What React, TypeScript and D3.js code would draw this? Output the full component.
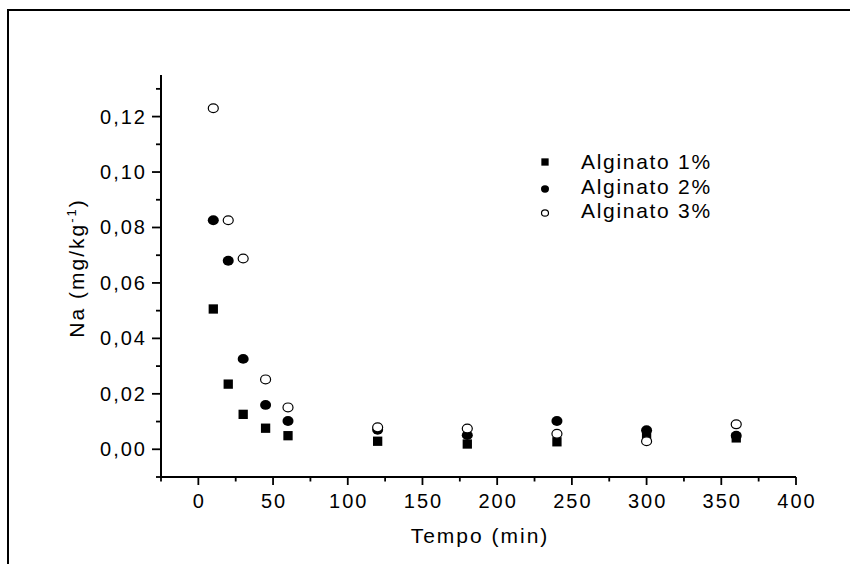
import React from "react";
import * as d3 from "d3";

const times = [10, 20, 30, 45, 60, 120, 180, 240, 300, 360];
const alginato1 = [0.0506, 0.0235, 0.0126, 0.0076, 0.0049, 0.0029, 0.0019, 0.0027, 0.005, 0.0041];
const alginato2 = [0.0826, 0.068, 0.0326, 0.016, 0.0102, 0.007, 0.0051, 0.0102, 0.0069, 0.0049];
const alginato3 = [0.123, 0.0826, 0.0688, 0.0252, 0.0151, 0.0079, 0.0075, 0.0056, 0.0029, 0.009];
const seriesNames = ["Alginato 1%", "Alginato 2%", "Alginato 3%"];
const xMajorTicks = [0, 50, 100, 150, 200, 250, 300, 350, 400];
const xMinorTicks = [-25, 25, 75, 125, 175, 225, 275, 325, 375];
const yMajorTicks = [0, 0.02, 0.04, 0.06, 0.08, 0.1, 0.12];
const yMinorTicks = [-0.01, 0.01, 0.03, 0.05, 0.07, 0.09, 0.11, 0.13];
const xTitle = "Tempo (min)";

const FONT = "'Liberation Sans', Arial, sans-serif";

export default function App() {
  const W = 850, H = 564;
  const x = d3.scaleLinear().domain([-25, 400]).range([161, 796]);
  const y = d3.scaleLinear().domain([-0.01, 0.135]).range([477, 75]);
  const fmt = (v: number) => d3.format(".2f")(v).replace(".", ",");
  const x0 = x(-25), y0 = y(-0.01);

  const square = (cx: number, cy: number, s: number, key: string) => (
    <rect key={key} x={cx - s / 2} y={cy - s / 2} width={s} height={s} fill="#000" />
  );
  const ell = (cx: number, cy: number, rx: number, ry: number, filled: boolean, key: string) => (
    <ellipse key={key} cx={cx} cy={cy} rx={rx} ry={ry} fill={filled ? "#000" : "#fff"} stroke="#000" strokeWidth={filled ? 0 : 1.2} />
  );

  const legendRows = [161, 186, 210];
  const legendMarkerY = [162, 189, 213];

  return (
    <svg width={W} height={H} style={{ position: "absolute", left: 0, top: 0, background: "#fff" }} fontFamily={FONT}>
      <rect x={0} y={0} width={W} height={H} fill="#fff" />
      {/* frame */}
      <line x1={8} y1={10} x2={850} y2={10} stroke="#000" strokeWidth={2} />
      <line x1={8} y1={9} x2={8} y2={564} stroke="#000" strokeWidth={2} />

      {/* axes */}
      <line x1={x0} y1={y0} x2={x(400)} y2={y0} stroke="#000" strokeWidth={2} />
      <line x1={x0} y1={y0} x2={x0} y2={y(0.135)} stroke="#000" strokeWidth={2} />

      {xMajorTicks.map((t) => (
        <g key={"xm" + t}>
          <line x1={x(t)} x2={x(t)} y1={y0} y2={y0 + 8} stroke="#000" strokeWidth={1.8} />
          <text x={x(t) + 1} y={507.5} fontSize={20} letterSpacing={2} textAnchor="middle" fill="#000">{t}</text>
        </g>
      ))}
      {xMinorTicks.map((t) => (
        <line key={"xn" + t} x1={x(t)} x2={x(t)} y1={y0} y2={y0 + 4.5} stroke="#000" strokeWidth={1.8} />
      ))}
      {yMajorTicks.map((v) => (
        <g key={"ym" + v}>
          <line x1={x0 - 9} x2={x0} y1={y(v)} y2={y(v)} stroke="#000" strokeWidth={1.8} />
          <text x={147} y={y(v) + 7} fontSize={20} letterSpacing={2} textAnchor="end" fill="#000">{fmt(v)}</text>
        </g>
      ))}
      {yMinorTicks.map((v) => (
        <line key={"yn" + v} x1={x0 - 5} x2={x0} y1={y(v)} y2={y(v)} stroke="#000" strokeWidth={1.8} />
      ))}

      {/* titles */}
      <text x={480} y={543} fontSize={21} letterSpacing={2} textAnchor="middle" fill="#000">{xTitle}</text>
      <text transform="translate(84,268) rotate(-90)" fontSize={21} letterSpacing={2} textAnchor="middle" fill="#000">
        Na (mg/kg<tspan fontSize={13} dy={-8}>-1</tspan><tspan dy={8}>)</tspan>
      </text>

      {/* data */}
      {times.map((t, i) => square(x(t), y(alginato1[i]), 9.3, "a1" + i))}
      {times.map((t, i) => ell(x(t), y(alginato2[i]), 5.5, 4.9, true, "a2" + i))}
      {times.map((t, i) => ell(x(t), y(alginato3[i]), 5.0, 4.4, false, "a3" + i))}

      {/* legend */}
      {square(545, legendMarkerY[0], 7.3, "l1")}
      {ell(545, legendMarkerY[1], 4, 3.7, true, "l2")}
      {ell(545, legendMarkerY[2], 3.5, 3.2, false, "l3")}
      {seriesNames.map((n, i) => (
        <text key={n} x={581} y={legendRows[i] + 7.5} fontSize={21} letterSpacing={1.7} fill="#000">{n}</text>
      ))}
    </svg>
  );
}
